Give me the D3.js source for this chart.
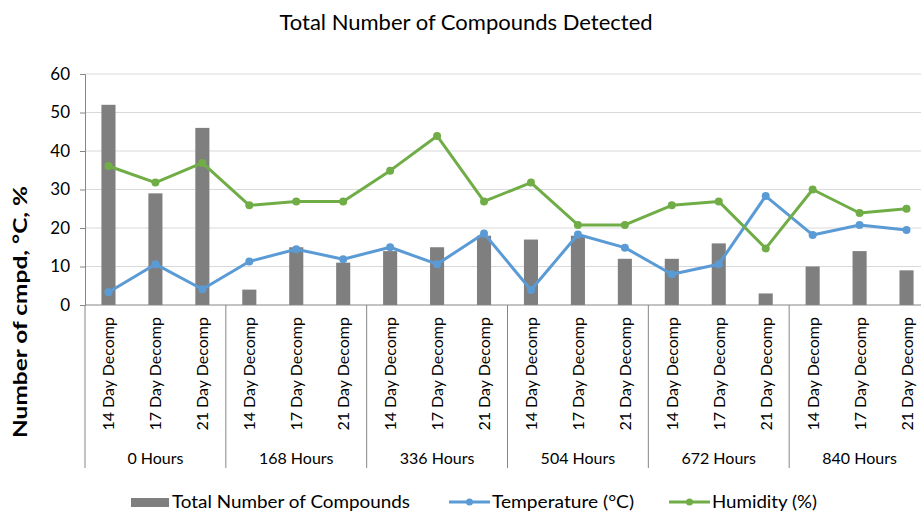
<!DOCTYPE html>
<html>
<head>
<meta charset="utf-8">
<script src="https://cdn.jsdelivr.net/npm/d3@7"></script>
<style>
  body { margin: 0; background: #fff; }
  svg { font-family: Lato, "Open Sans", sans-serif; }
</style>
</head>
<body>
<script>
// categories: 6 time groups x 3 decomposition days
var groups = ['0 Hours', '168 Hours', '336 Hours', '504 Hours', '672 Hours', '840 Hours'];
var days = ['14 Day Decomp', '17 Day Decomp', '21 Day Decomp'];

var compounds   = [52, 29, 46,  4, 15, 11, 14, 15, 18, 17, 18, 12, 12, 16,  3, 10, 14,  9];
var temperature = [3.3, 10.6, 4.1, 11.3, 14.5, 11.9, 15.0, 10.6, 18.6, 3.9, 18.3, 14.9, 8.0, 10.6, 28.3, 18.2, 20.8, 19.5];
var humidity    = [36.1, 31.8, 36.9, 25.9, 26.9, 26.9, 34.9, 43.9, 26.9, 31.8, 20.8, 20.8, 25.9, 26.9, 14.7, 30.0, 23.9, 25.0];

var yTicks = [0, 10, 20, 30, 40, 50, 60];

var cats = [];
groups.forEach(function(g){
    days.forEach(function(d){ cats.push(g + '|' + d); });
});

var width = 921, height = 513;
var plotLeft = 85, plotRight = 930, plotTop = 74, plotBottom = 305;

var svg = d3.select('body')
    .append('svg')
    .attr('width', width)
    .attr('height', height);

var x = d3.scaleBand().domain(cats).range([plotLeft, plotRight]).paddingInner(0.7).paddingOuter(0.35);
var xc = d3.scaleBand().domain(cats).range([plotLeft, plotRight]);
var y = d3.scaleLinear().domain([0, 60]).range([plotBottom, plotTop]);

// title
svg.append('text')
    .attr('x', 466).attr('y', 30)
    .attr('text-anchor', 'middle')
    .attr('font-size', 22)
    .text('Total Number of Compounds Detected');

// gridlines
svg.append('g').selectAll('line')
    .data(yTicks.slice(1))
    .enter().append('line')
    .attr('x1', plotLeft).attr('x2', plotRight)
    .attr('y1', function(d){ return y(d); })
    .attr('y2', function(d){ return y(d); })
    .attr('stroke', '#d9d9d9')
    .attr('stroke-width', 1);

// y axis
var yAxis = svg.append('g')
    .attr('transform', 'translate(' + plotLeft + ',0)')
    .call(d3.axisLeft(y).tickValues(yTicks).tickSize(5).tickPadding(10));
yAxis.select('.domain').attr('stroke', '#868686');
yAxis.selectAll('.tick line').attr('stroke', '#868686');
yAxis.selectAll('.tick text').attr('font-size', 17).attr('fill', '#000')
    .attr('font-family', 'Lato, sans-serif');

svg.append('text')
    .attr('transform', 'translate(27,312) rotate(-90)')
    .attr('text-anchor', 'middle')
    .attr('font-size', 19)
    .attr('font-weight', 'bold')
    .attr('textLength', 252)
    .attr('lengthAdjust', 'spacingAndGlyphs')
    .text('Number of cmpd, °C, %');

// bars
svg.append('g').selectAll('rect')
    .data(compounds)
    .enter().append('rect')
    .attr('x', function(d, i){ return x(cats[i]); })
    .attr('width', x.bandwidth())
    .attr('y', function(d){ return y(d); })
    .attr('height', function(d){ return y(0) - y(d); })
    .attr('fill', '#7f7f7f');

// x axis line and group separators
svg.append('line')
    .attr('x1', plotLeft).attr('x2', plotRight)
    .attr('y1', plotBottom).attr('y2', plotBottom)
    .attr('stroke', '#868686');

svg.append('g').selectAll('line')
    .data(d3.range(groups.length + 1))
    .enter().append('line')
    .attr('x1', function(d){ return plotLeft + d * 3 * xc.bandwidth(); })
    .attr('x2', function(d){ return plotLeft + d * 3 * xc.bandwidth(); })
    .attr('y1', plotBottom).attr('y2', 468)
    .attr('stroke', '#868686');

// category labels
svg.append('g').selectAll('text')
    .data(cats)
    .enter().append('text')
    .attr('transform', function(d){
        return 'translate(' + (xc(d) + xc.bandwidth() / 2 + 6) + ',317) rotate(-90)';
    })
    .attr('text-anchor', 'end')
    .attr('font-size', 16)
    .text(function(d){ return d.split('|')[1]; });

// group labels
svg.append('g').selectAll('text')
    .data(groups)
    .enter().append('text')
    .attr('x', function(d, i){ return plotLeft + (i * 3 + 1.5) * xc.bandwidth(); })
    .attr('y', 464)
    .attr('text-anchor', 'middle')
    .attr('font-size', 16)
    .text(function(d){ return d; });

// lines
function drawLine(values, color){
    var line = d3.line()
        .x(function(d, i){ return xc(cats[i]) + xc.bandwidth() / 2; })
        .y(function(d){ return y(d); });
    svg.append('path')
        .datum(values)
        .attr('d', line)
        .attr('fill', 'none')
        .attr('stroke', color)
        .attr('stroke-width', 3)
        .attr('stroke-linejoin', 'round');
    svg.append('g').selectAll('circle')
        .data(values)
        .enter().append('circle')
        .attr('cx', function(d, i){ return xc(cats[i]) + xc.bandwidth() / 2; })
        .attr('cy', function(d){ return y(d); })
        .attr('r', 4)
        .attr('fill', color);
}
drawLine(temperature, '#5b9bd5');
drawLine(humidity, '#70ad47');

// legend
var legendY = 502;
svg.append('rect')
    .attr('x', 131).attr('y', legendY - 4).attr('width', 38).attr('height', 9)
    .attr('fill', '#7f7f7f');
svg.append('text')
    .attr('x', 172).attr('y', legendY + 6)
    .attr('font-size', 18)
    .attr('textLength', 238)
    .attr('lengthAdjust', 'spacingAndGlyphs')
    .text('Total Number of Compounds');

var legendLines = [
    { x: 449, color: '#5b9bd5', label: 'Temperature (°C)', w: 142 },
    { x: 669, color: '#70ad47', label: 'Humidity (%)', w: 105 }
];
legendLines.forEach(function(l){
    svg.append('line')
        .attr('x1', l.x).attr('x2', l.x + 41)
        .attr('y1', legendY).attr('y2', legendY)
        .attr('stroke', l.color).attr('stroke-width', 3);
    svg.append('circle')
        .attr('cx', l.x + 20.5).attr('cy', legendY).attr('r', 3.5)
        .attr('fill', l.color);
    svg.append('text')
        .attr('x', l.x + 43).attr('y', legendY + 6)
        .attr('font-size', 18)
        .attr('textLength', l.w)
        .attr('lengthAdjust', 'spacingAndGlyphs')
        .text(l.label);
});
</script>
</body>
</html>
